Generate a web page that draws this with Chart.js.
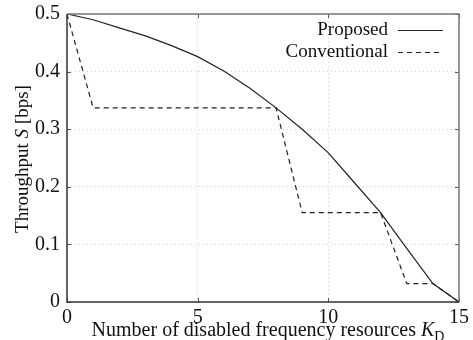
<!DOCTYPE html>
<html>
<head>
<meta charset="utf-8">
<script src="https://cdn.jsdelivr.net/npm/chart.js@4/dist/chart.umd.min.js"></script>
<style>
  html, body { margin: 0; padding: 0; background: #fff; }
  #wrap { width: 473px; height: 340px; }
</style>
</head>
<body>
<div id="wrap"><canvas id="chart" width="473" height="340"></canvas></div>
<script>
// values
const kValues = [0, 1, 2, 3, 4, 5, 6, 7, 8, 9, 10, 11, 12, 13, 14, 15];
const proposed = [0.5, 0.490, 0.476, 0.462, 0.445, 0.426, 0.401, 0.371, 0.337, 0.300, 0.259, 0.207, 0.155, 0.093, 0.032, 0];
const conventional = [0.5, 0.337, 0.337, 0.337, 0.337, 0.337, 0.337, 0.337, 0.337, 0.155, 0.155, 0.155, 0.155, 0.032, 0.032, 0];
const seriesLabels = ['Proposed', 'Conventional'];
const xTickStep = 5;
const yTickStep = 0.1;

const serif = '"Liberation Serif", "DejaVu Serif", serif';
const ink = '#222';

const toPoints = ys => kValues.map((k, i) => ({ x: k, y: ys[i] }));

// frame, inward ticks, legend and axis titles like the gnuplot original
const decorations = {
  id: 'decorations',
  afterDraw(chart) {
    const ctx = chart.ctx;
    const a = chart.chartArea;
    const xs = chart.scales.x;
    const ys = chart.scales.y;
    ctx.save();

    // inward ticks
    ctx.strokeStyle = '#555';
    ctx.lineWidth = 1;
    ctx.beginPath();
    xs.ticks.forEach(t => {
      const px = Math.round(xs.getPixelForValue(t.value)) + 0.5;
      ctx.moveTo(px, a.top); ctx.lineTo(px, a.top + 4);
      ctx.moveTo(px, a.bottom); ctx.lineTo(px, a.bottom - 4);
    });
    ys.ticks.forEach(t => {
      const py = Math.round(ys.getPixelForValue(t.value)) + 0.5;
      ctx.moveTo(a.left, py); ctx.lineTo(a.left + 4, py);
      ctx.moveTo(a.right, py); ctx.lineTo(a.right - 4, py);
    });
    ctx.stroke();

    // frame
    ctx.strokeStyle = '#777';
    ctx.lineWidth = 1.5;
    ctx.beginPath();
    ctx.moveTo(a.left, a.top); ctx.lineTo(a.right, a.top); ctx.lineTo(a.right, a.bottom);
    ctx.stroke();
    ctx.strokeStyle = '#333';
    ctx.beginPath();
    ctx.moveTo(a.left, a.top); ctx.lineTo(a.left, a.bottom); ctx.lineTo(a.right, a.bottom);
    ctx.stroke();

    // legend: text then line sample
    ctx.font = '19px ' + serif;
    ctx.fillStyle = '#111';
    ctx.textAlign = 'right';
    ctx.textBaseline = 'middle';
    chart.data.datasets.forEach((ds, i) => {
      const y = 30 + i * 22;
      ctx.fillText(ds.label, 388, y);
      ctx.strokeStyle = ds.borderColor;
      ctx.lineWidth = ds.borderWidth;
      ctx.setLineDash(ds.borderDash || []);
      ctx.beginPath();
      ctx.moveTo(398, y + 0.5); ctx.lineTo(443, y + 0.5);
      ctx.stroke();
      ctx.setLineDash([]);
    });

    // x title: "Number of disabled frequency resources K_D"
    ctx.fillStyle = '#111';
    ctx.textAlign = 'left';
    ctx.textBaseline = 'alphabetic';
    const xPart = 'Number of disabled frequency resources ';
    ctx.font = '20px ' + serif;
    const w1 = ctx.measureText(xPart).width;
    ctx.font = 'italic 20px ' + serif;
    const w2 = ctx.measureText('K').width;
    ctx.font = '14px ' + serif;
    const w3 = ctx.measureText('D').width;
    let x0 = 268 - (w1 + w2 + w3) / 2;
    const base = 336;
    ctx.font = '20px ' + serif;
    ctx.fillText(xPart, x0, base);
    ctx.font = 'italic 20px ' + serif;
    ctx.fillText('K', x0 + w1, base);
    ctx.font = '14px ' + serif;
    ctx.fillText('D', x0 + w1 + w2, base + 5);

    // y title: "Throughput S [bps]"
    ctx.translate(28, 159);
    ctx.rotate(-Math.PI / 2);
    const p1 = 'Throughput ', p2 = 'S', p3 = ' [bps]';
    ctx.font = '19px ' + serif;
    const a1 = ctx.measureText(p1).width, a3 = ctx.measureText(p3).width;
    ctx.font = 'italic 19px ' + serif;
    const a2 = ctx.measureText(p2).width;
    let sx = -(a1 + a2 + a3) / 2;
    ctx.font = '19px ' + serif;
    ctx.fillText(p1, sx, 0);
    ctx.font = 'italic 19px ' + serif;
    ctx.fillText(p2, sx + a1, 0);
    ctx.font = '19px ' + serif;
    ctx.fillText(p3, sx + a1 + a2, 0);

    ctx.restore();
  }
};

new Chart(document.getElementById('chart').getContext('2d'), {
  type: 'line',
  data: {
    datasets: [{
      label: seriesLabels[0],
      data: toPoints(proposed),
      borderColor: ink,
      borderWidth: 1.2,
      pointRadius: 0,
      tension: 0
    }, {
      label: seriesLabels[1],
      data: toPoints(conventional),
      borderColor: ink,
      borderWidth: 1.2,
      borderDash: [5, 4],
      pointRadius: 0,
      tension: 0
    }]
  },
  options: {
    responsive: false,
    animation: false,
    events: [],
    layout: { padding: { top: 14, right: 14, left: 0, bottom: 0 } },
    plugins: { legend: { display: false }, tooltip: { enabled: false } },
    scales: {
      x: {
        type: 'linear',
        min: 0, max: 15,
        afterFit(scale) { scale.height = 38; scale.paddingLeft = 0; scale.paddingRight = 0; },
        ticks: { stepSize: xTickStep, padding: 4, color: '#111', font: { family: serif, size: 20 }, maxRotation: 0 },
        grid: { color: '#d4d4d4', drawTicks: false, lineWidth: 1 },
        border: { display: false, dash: [1, 3] }
      },
      y: {
        min: 0, max: 0.5,
        afterFit(scale) { scale.width = 67; scale.paddingTop = 0; scale.paddingBottom = 0; },
        ticks: { stepSize: yTickStep, padding: 7, color: '#111', font: { family: serif, size: 20 } },
        grid: { color: '#d4d4d4', drawTicks: false, lineWidth: 1 },
        border: { display: false, dash: [1, 3] }
      }
    }
  },
  plugins: [decorations]
});
</script>
</body>
</html>
